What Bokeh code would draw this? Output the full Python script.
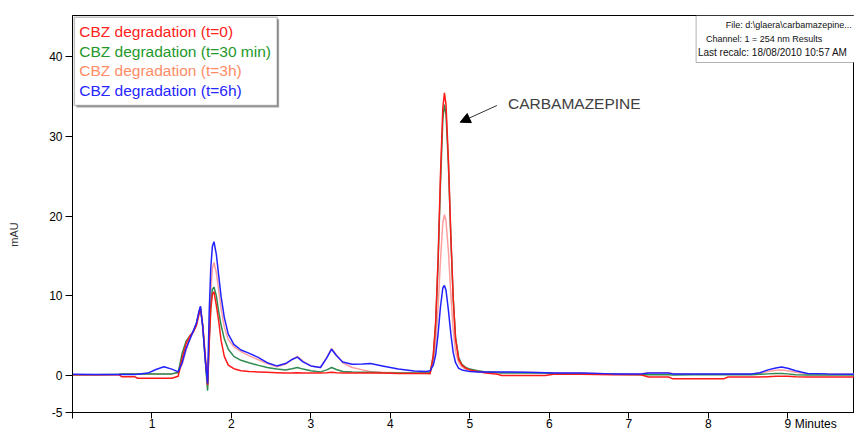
from bokeh.plotting import figure
from bokeh.models import (Range1d, BoxAnnotation, Label, Arrow, NormalHead, FixedTicker,
                          LinearAxis)
from bokeh.embed import file_html
from bokeh.resources import INLINE

# retention time grid (minutes)
time_min = [0.00, 0.30, 0.58, 0.62, 0.78, 0.82, 0.95, 1.05, 1.15, 1.25,
            1.33, 1.38, 1.43, 1.48, 1.52, 1.56, 1.59, 1.61, 1.64, 1.67,
            1.70, 1.72, 1.74, 1.76, 1.78, 1.81, 1.84, 1.87, 1.91, 1.96,
            2.03, 2.12, 2.22, 2.33, 2.45, 2.57, 2.68, 2.76, 2.83, 2.90,
            3.00, 3.12, 3.20, 3.26, 3.32, 3.40, 3.52, 3.65, 3.75, 3.90,
            4.10, 4.30, 4.45, 4.50, 4.54, 4.57, 4.60, 4.63, 4.66, 4.68,
            4.70, 4.73, 4.76, 4.79, 4.82, 4.86, 4.90, 4.95, 5.00, 5.10,
            5.20, 5.35, 5.40, 5.70, 5.95, 6.05, 6.40, 6.80, 7.15, 7.25,
            7.50, 7.55, 7.80, 8.20, 8.25, 8.55, 8.65, 8.75, 8.85, 8.92,
            9.00, 9.10, 9.25, 9.50, 9.84]

mau_t0 = [0.1, 0.1, 0.1, -0.15, -0.15, -0.35, -0.35, -0.35, -0.35, -0.35,
          -0.1, 2.2, 4.0, 5.0, 5.5, 6.3, 7.6, 8.4, 6.2, 2.5,
          -1.2, 4.0, 8.3, 10.2, 10.5, 8.8, 6.8, 4.4, 2.4, 1.3,
          0.85, 0.6, 0.5, 0.45, 0.4, 0.35, 0.3, 0.3, 0.35, 0.3,
          0.3, 0.3, 0.35, 0.4, 0.35, 0.3, 0.3, 0.3, 0.3, 0.3,
          0.25, 0.25, 0.25, 0.2, 2.6, 6.8, 14.6, 25.1, 33.6, 35.5,
          34.0, 27.1, 17.8, 9.8, 4.6, 2.0, 1.3, 0.9, 0.7, 0.5,
          0.3, 0.15, 0.0, 0.0, 0.0, 0.15, 0.15, 0.1, 0.1, -0.2,
          -0.2, -0.4, -0.4, -0.4, -0.2, -0.2, -0.2, -0.15, -0.1, -0.1,
          -0.1, -0.15, -0.2, -0.2, -0.2]

mau_t30 = [0.1, 0.1, 0.15, 0.2, 0.2, 0.2, 0.2, 0.2, 0.2, 0.2,
           0.4, 2.8, 4.3, 5.0, 5.5, 6.6, 7.8, 8.5, 6.0, 2.0,
           -1.9, 4.5, 8.8, 10.8, 11.1, 10.0, 8.0, 6.3, 4.6, 3.3,
           2.4, 1.9, 1.6, 1.3, 1.0, 0.8, 0.7, 0.85, 1.0, 0.8,
           0.6, 0.45, 0.7, 1.0, 0.75, 0.5, 0.45, 0.4, 0.4, 0.35,
           0.3, 0.3, 0.3, 0.3, 2.4, 6.4, 14.0, 24.0, 32.2, 34.0,
           32.8, 26.5, 17.5, 9.8, 4.8, 2.2, 1.4, 1.0, 0.8, 0.6,
           0.45, 0.35, 0.3, 0.3, 0.3, 0.25, 0.2, 0.15, 0.1, 0.1,
           0.1, 0.05, 0.1, 0.1, 0.1, 0.1, 0.15, 0.2, 0.25, 0.25,
           0.2, 0.1, 0.05, 0.05, 0.05]

mau_t3h = [0.1, 0.1, 0.1, 0.2, 0.2, 0.2, 0.2, 0.2, 0.2, 0.2,
           0.3, 1.4, 3.2, 4.7, 5.4, 6.4, 7.9, 8.6, 6.2, 2.2,
           -1.5, 5.5, 10.5, 13.4, 14.2, 12.9, 10.7, 8.4, 6.1, 4.5,
           3.6, 3.0, 2.5, 2.0, 1.5, 1.1, 1.4, 2.0, 2.4, 1.8,
           1.2, 1.0, 2.3, 3.4, 2.6, 1.6, 1.0, 0.7, 0.5, 0.4,
           0.35, 0.3, 0.3, 0.4, 1.6, 4.0, 8.5, 14.4, 19.2, 20.2,
           19.4, 15.6, 10.3, 5.8, 3.0, 1.6, 1.1, 0.8, 0.7, 0.55,
           0.45, 0.4, 0.4, 0.4, 0.35, 0.3, 0.3, 0.2, 0.2, 0.35,
           0.35, 0.25, 0.2, 0.2, 0.2, 0.2, 0.3, 0.5, 0.65, 0.7,
           0.6, 0.4, 0.2, 0.2, 0.2]

mau_t6h = [0.15, 0.12, 0.12, 0.12, 0.12, 0.15, 0.3, 0.75, 1.1, 0.8,
           0.45, 1.6, 3.4, 4.6, 5.6, 6.6, 8.0, 8.7, 6.0, 2.0,
           -1.0, 8.0, 13.5, 16.2, 16.8, 15.2, 12.5, 9.9, 7.3, 5.2,
           3.9, 3.2, 2.8, 2.3, 1.6, 1.2, 1.5, 2.0, 2.3, 1.7,
           1.2, 1.0, 2.2, 3.3, 2.5, 1.7, 1.4, 1.45, 1.5, 1.2,
           0.8, 0.55, 0.5, 0.6, 1.3, 2.6, 5.2, 8.6, 11.0, 11.3,
           10.7, 8.2, 5.3, 2.9, 1.6, 0.9, 0.7, 0.6, 0.5, 0.45,
           0.45, 0.45, 0.45, 0.4, 0.35, 0.3, 0.3, 0.2, 0.2, 0.3,
           0.3, 0.2, 0.2, 0.2, 0.2, 0.2, 0.35, 0.7, 0.95, 1.05,
           0.9, 0.6, 0.25, 0.2, 0.15]

series_labels = ["CBZ degradation (t=0)", "CBZ degradation (t=30 min)",
                 "CBZ degradation (t=3h)", "CBZ degradation (t=6h)"]
x_ticks = [0, 1, 2, 3, 4, 5, 6, 7, 8, 9]
y_ticks = [-4.65, 0, 10, 20, 30, 40]
y_tick_text = {-4.65: "-5"}
info_lines = ["File: d:\\glaera\\carbamazepine...",
              "Channel: 1 = 254 nm  Results",
              "Last recalc: 18/08/2010  10:57 AM"]
x_title, x_title_at = "Minutes", 9.80
y_title, y_title_at = "mAU", 17.7

FONT = "Liberation Sans"

p = figure(width=854, height=434, x_range=Range1d(0, 9.84), y_range=Range1d(-4.65, 45.2),
           output_backend="svg", toolbar_location=None,
           min_border_left=72, min_border_right=0, min_border_top=15, min_border_bottom=22)
p.background_fill_color = "white"
p.border_fill_color = "white"
p.xgrid.visible = False
p.ygrid.visible = False
p.outline_line_color = "black"
p.outline_line_width = 1

# main axes
xa = p.xaxis[0]
ya = p.yaxis[0]
xa.ticker = FixedTicker(ticks=x_ticks)
xa.major_label_overrides = {0: ""}
xa.major_tick_in = 0
xa.major_tick_out = 6
xa.minor_tick_line_color = None
xa.major_label_standoff = 0
ya.ticker = FixedTicker(ticks=y_ticks)
ya.major_label_overrides = y_tick_text
ya.major_tick_in = 0
ya.major_tick_out = 7
ya.minor_tick_line_color = None
ya.major_label_standoff = 3
for ax in (xa, ya):
    ax.axis_line_color = "black"
    ax.major_tick_line_color = "black"
    ax.major_label_text_font = FONT
    ax.major_label_text_font_size = "12px"
    ax.major_label_text_color = "black"

# axis titles placed like the original (bottom-right / left, off-centre)
xt = LinearAxis(ticker=FixedTicker(ticks=[x_title_at]),
                major_label_overrides={x_title_at: x_title},
                axis_line_color=None, major_tick_line_color=None, minor_tick_line_color=None,
                major_tick_in=0, major_tick_out=0, major_label_standoff=-14,
                major_label_text_font=FONT,
                major_label_text_font_size="12px", major_label_text_color="black")
p.add_layout(xt, "below")
yt = LinearAxis(ticker=FixedTicker(ticks=[y_title_at]),
                major_label_overrides={y_title_at: y_title},
                axis_line_color=None, major_tick_line_color=None, minor_tick_line_color=None,
                major_tick_in=0, major_tick_out=0, major_label_standoff=26,
                major_label_orientation="vertical", major_label_text_font=FONT,
                major_label_text_font_size="11px", major_label_text_color="#333333")
p.add_layout(yt, "left")

line_colors = ["#ff1a1a", "#2e8b50", "#ff9e9e", "#2222ff"]
text_colors = ["#ff2020", "#22992a", "#ff8c66", "#2626ff"]
series = [mau_t0, mau_t30, mau_t3h, mau_t6h]
for idx in [2, 1, 0, 3]:
    p.line(time_min, series[idx], line_color=line_colors[idx], line_width=1.5)

# legend box
p.add_layout(BoxAnnotation(left=0.05, right=2.60, top=44.72, bottom=33.65,
                           fill_color="#a0a0a0", fill_alpha=1, line_color=None))
p.add_layout(BoxAnnotation(left=0.023, right=2.576, top=44.97, bottom=33.9,
                           fill_color="white", fill_alpha=1, line_color="#333333", line_width=1.5))
for i, lab in enumerate(series_labels):
    p.add_layout(Label(x=0.085, y=43.2 - i * 2.47, text=lab, text_color=text_colors[i],
                       text_font=FONT, text_font_size="15.5px", text_baseline="alphabetic"))

# info box
p.add_layout(BoxAnnotation(left=7.847, right=9.84, top=45.2, bottom=39.3,
                           fill_color="white", fill_alpha=1, line_color="black", line_width=1))
info_x = [8.22, 7.97, 7.87]
info_size = ["9px", "9px", "10px"]
for i, t in enumerate(info_lines):
    p.add_layout(Label(x=info_x[i], y=44.05 - i * 1.77, text=t, text_color="#111111",
                       text_font=FONT, text_font_size=info_size[i], text_baseline="alphabetic"))

# peak annotation
p.add_layout(Label(x=5.48, y=34.1, text="CARBAMAZEPINE", text_color="#404040",
                   text_font=FONT, text_font_size="15.5px", text_baseline="alphabetic"))
p.add_layout(Arrow(end=NormalHead(size=10, fill_color="black", line_color="black"),
                   x_start=5.34, y_start=33.9, x_end=4.878, y_end=31.8,
                   line_color="#333333", line_width=1))

open("out.html", "w").write(file_html(p, INLINE))
